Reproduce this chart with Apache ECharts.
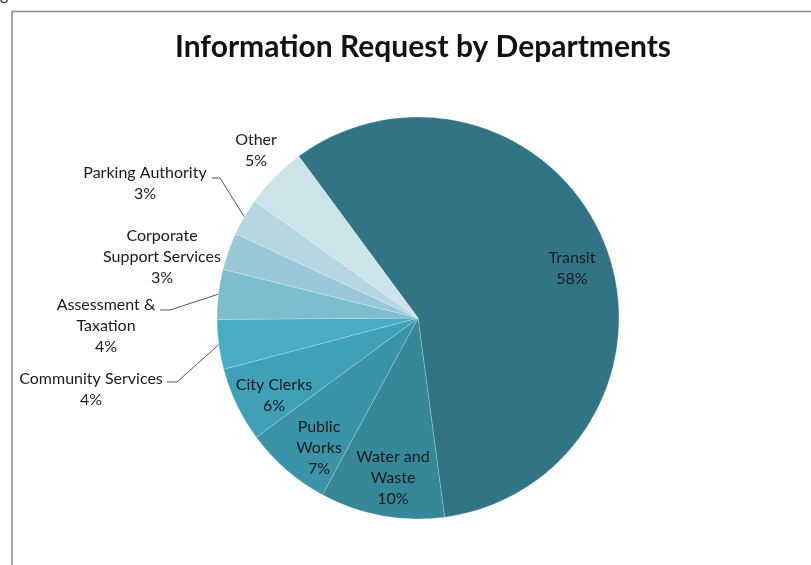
<!DOCTYPE html>
<html>
<head>
<meta charset="utf-8">
<script src="https://cdn.jsdelivr.net/npm/echarts@6/dist/echarts.min.js"></script>
<style>
  html, body { margin: 0; padding: 0; background: #ffffff; }
  #chart { width: 811px; height: 565px; }
</style>
</head>
<body>
<div id="chart"></div>
<script>
// Requests per department, in percent of all information requests
const departments = ['Transit', 'Water and Waste', 'Public Works', 'City Clerks', 'Community Services', 'Assessment & Taxation', 'Corporate Support Services', 'Parking Authority', 'Other'];
const shares = [58, 10, 7, 6, 4, 4, 3, 3, 5];
// Text shown for each slice (line breaks as printed)
const labelNames = ['Transit', 'Water and\nWaste', 'Public\nWorks', 'City Clerks', 'Community Services', 'Assessment &\nTaxation', 'Corporate\nSupport Services', 'Parking Authority', 'Other'];

const sliceColors = ['#307486', '#368798', '#3b93a8', '#40a0b8', '#49acc6', '#7dbdcf', '#99c9d8', '#b4d7e1', '#cde3ea'];

// Label anchor (block centre) for each slice, and leader-line bend/end where one is drawn
const labelAnchor = {
  'Transit': [572, 268],
  'Water and Waste': [393, 478],
  'Public Works': [319, 448],
  'City Clerks': [274, 395],
  'Community Services': [91, 389],
  'Assessment & Taxation': [106, 326],
  'Corporate Support Services': [162, 257],
  'Parking Authority': [145, 183],
  'Other': [256, 150]
};
const leader = {
  'Parking Authority': [[220, 178], [212, 178]],
  'Assessment & Taxation': [[170, 310], [160, 310]],
  'Community Services': [[177, 382], [167, 382]]
};

const chart = echarts.init(document.getElementById('chart'), null, { renderer: 'canvas' });

const seriesData = departments.map((name, i) => ({
  name: name,
  value: shares[i],
  itemStyle: { color: sliceColors[i] },
  label: { formatter: labelNames[i] + '\n' + shares[i] + '%' },
  labelLine: { show: !!leader[name] }
}));

chart.setOption({
  animation: false,
  backgroundColor: '#ffffff',
  title: {
    text: 'Information Request by Departments',
    left: 170,
    top: 27,
    textStyle: { fontFamily: 'Lato', fontWeight: 'bold', fontSize: 30, color: '#111111' }
  },
  graphic: [
    {
      type: 'polyline',
      shape: { points: [[12, 600], [12, 11.5], [820, 11.5]] },
      style: { stroke: '#8c8c8c', lineWidth: 1.5, fill: null }
    },
    {
      type: 'text',
      left: 0, top: -13,
      style: { text: 'g', font: '16px Lato', fill: '#222' }
    }
  ],
  series: [{
    type: 'pie',
    center: [418, 318],
    radius: 201,
    startAngle: 126.4,
    clockwise: true,
    avoidLabelOverlap: false,
    itemStyle: { borderColor: 'rgba(255,255,255,0.35)', borderWidth: 0.6 },
    label: {
      show: true,
      position: 'outside',
      fontFamily: 'Lato',
      fontSize: 16,
      lineHeight: 21,
      color: '#1a1a1a',
      align: 'center'
    },
    labelLine: {
      show: false,
      length: 10,
      length2: 8,
      lineStyle: { color: '#555555', width: 1 }
    },
    emphasis: { disabled: true },
    data: seriesData,
    labelLayout: function (params) {
      const name = departments[params.dataIndex];
      const a = labelAnchor[name];
      const out = { x: a[0], y: a[1], align: 'center', verticalAlign: 'middle' };
      if (leader[name] && params.labelLinePoints) {
        const p = params.labelLinePoints;
        out.labelLinePoints = [p[0], leader[name][0], leader[name][1]];
      }
      return out;
    }
  }]
});
</script>
</body>
</html>
